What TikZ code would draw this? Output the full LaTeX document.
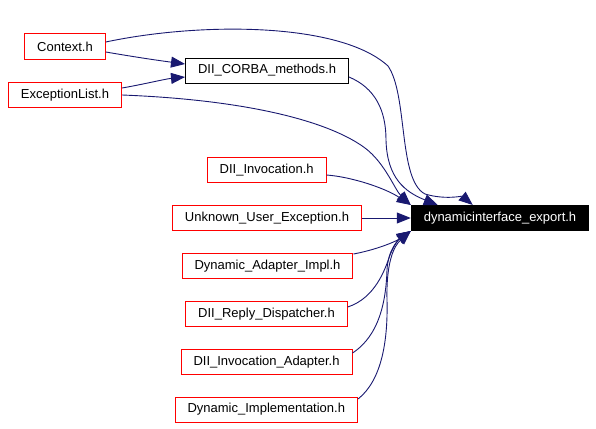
\documentclass[tikz,border=0pt]{standalone}
\usepackage{fontspec}
\setmainfont{Liberation Sans}
\usetikzlibrary{arrows.meta}
\definecolor{edgeblue}{HTML}{191970}

\begin{document}
\begin{tikzpicture}[x=1pt,y=-1pt,->,>={Triangle[length=14pt,width=11pt]},
edge/.style={draw=edgeblue,line width=0.9pt},
file node/.style={rectangle,draw=red,line width=1pt,minimum height=25pt,
inner xsep=12.5pt,font=\fontsize{13}{15}\selectfont},
main node/.style={file node,draw=black},
export node/.style={file node,draw=black,fill=black,text=white}]
\useasboundingbox (0,0) rectangle (596,428);
\node[file node] (ctx) at (65,46.5) {Context.h};
\node[main node] (corba) at (267,70.5) {DII\_CORBA\_methods.h};
\node[file node] (exc) at (65,95) {ExceptionList.h};
\node[file node] (inv) at (266.7,170) {DII\_Invocation.h};
\node[file node] (unk) at (267,218) {Unknown\_User\_Exception.h};
\node[file node] (dai) at (267.5,266) {Dynamic\_Adapter\_Impl.h};
\node[file node] (rd) at (266.5,314) {DII\_Reply\_Dispatcher.h};
\node[file node] (ia) at (266.5,362) {DII\_Invocation\_Adapter.h};
\node[file node] (di) at (266.3,409.5) {Dynamic\_Implementation.h};
\node[export node] (exp) at (500,218) {dynamicinterface\_export.h};
% into DII_CORBA_methods.h
\draw[edge] ([yshift=-5.5pt]ctx.east) .. controls (135,57) and (155,60) .. ([yshift=6.5pt]corba.west);
\draw[edge] ([yshift=7pt]exc.east) .. controls (145,84) and (165,79) .. ([yshift=-6.5pt]corba.west);
% top side of the export node
\draw[edge] ([yshift=4.5pt]ctx.east) .. controls (200,22) and (340,22) .. (388,66)
  .. controls (408,95) and (398,180) .. (425,194)
  .. controls (445,200) and (462,196) .. ([xshift=62pt]exp.north west);
\draw[edge] ([yshift=-6.5pt]corba.east) .. controls (375,88) and (386,110) .. (386,140)
  .. controls (387,178) and (405,192) .. ([xshift=27pt]exp.north west);
\draw[edge] (exc.east) .. controls (250,100) and (330,122) .. (365,148)
  .. controls (385,163) and (395,190) .. (exp.north west);
\draw[edge] ([yshift=-5pt]inv.east) .. controls (352,177) and (385,188) .. (exp.north west);
\draw[edge] (unk) -- (exp);
% bottom corner of the export node
\draw[edge] ([yshift=-1pt]dai.north east) .. controls (375,250) and (395,242) .. (exp.south west);
\draw[edge] ([yshift=7pt]rd.east) .. controls (375,298) and (385,270) .. (390,255)
  .. controls (395,243) and (400,238) .. (exp.south west);
\draw[edge] ([yshift=9pt]ia.east) .. controls (380,335) and (386,300) .. (387,270)
  .. controls (388,250) and (398,240) .. (exp.south west);
\draw[edge] ([yshift=10.5pt]di.east) .. controls (382,380) and (388,340) .. (387,300)
  .. controls (386,260) and (395,245) .. (exp.south west);
\end{tikzpicture}
\end{document}
